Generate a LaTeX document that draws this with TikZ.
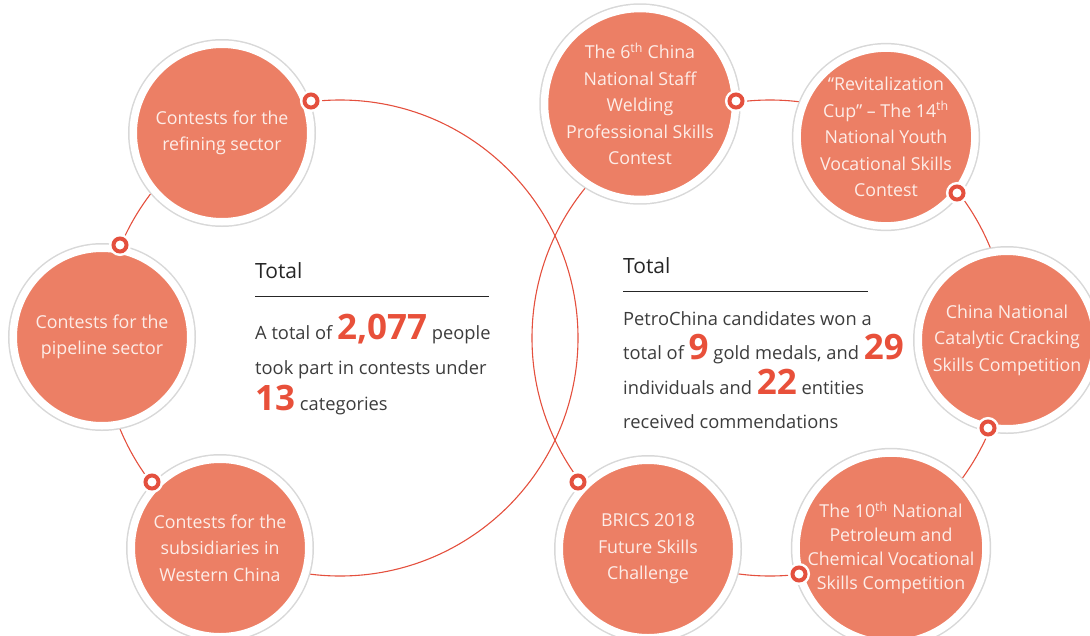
\documentclass[tikz,border=0pt]{standalone}
\usepackage{fontspec}
\setmainfont{Open Sans}
\definecolor{petal}{HTML}{EC7F65}
\definecolor{dotred}{HTML}{E4503E}
\definecolor{numred}{HTML}{E8503A}
\definecolor{ringgray}{HTML}{D8D8D8}
\definecolor{bodygray}{HTML}{3C3C3C}
\definecolor{bubbletext}{HTML}{FDEDE8}

\newcommand{\bignum}[1]{\textcolor{numred}{\fontsize{35}{35}\selectfont\bfseries #1}}

\tikzset{
  bubble/.style={circle, fill=petal, draw=white, line width=7.5pt,
    minimum size=177.5pt, inner sep=0pt, align=center, text=bubbletext,
    font=\fontsize{17.8}{26.5}\selectfont,
    preaction={draw=ringgray, line width=10.5pt}},
  marker/.style={circle, draw=dotred, fill=white, line width=4pt,
    minimum size=13pt, inner sep=0pt,
    preaction={draw=white, line width=9pt}},
  bigring/.style={draw=dotred, line width=1.1pt},
  body/.style={anchor=base west, inner sep=0pt, text=bodygray,
    font=\fontsize{18.3}{20}\selectfont},
  heading/.style={anchor=base west, inner sep=0pt, text=black!85,
    font=\fontsize{21}{21}\selectfont}
}

\begin{document}
\begin{tikzpicture}[x=1pt,y=-1pt]
\useasboundingbox (0,0) rectangle (1090,635);
\clip (0,0) rectangle (1090,635);

% the two large rings
\draw[bigring] (340,338) circle[radius=238pt];
\draw[bigring] (770,338) circle[radius=238pt];

% left side contests
\node[bubble] (refine) at (222,133) {Contests for the\\refining sector};
\node[bubble] (pipe) at (102,337) {Contests for the\\pipeline sector};
\node[bubble] (west) at (220,548) {Contests for the\\subsidiaries in\\Western China};

% right side contests
\node[bubble] (weld) at (640,104) {The 6\textsuperscript{th} China\\National Staff\\Welding\\Professional Skills\\Contest};
\node[bubble] (youth) at (886,137) {“Revitalization\\Cup” – The 14\textsuperscript{th}\\National Youth\\Vocational Skills\\Contest};
\node[bubble] (crack) at (1007,340) {China National\\Catalytic Cracking\\Skills Competition};
\node[bubble, font=\fontsize{17.8}{24}\selectfont] (petro) at (891,548) {The 10\textsuperscript{th} National\\Petroleum and\\Chemical Vocational\\Skills Competition};
\node[bubble] (brics) at (648,549) {BRICS 2018\\Future Skills\\Challenge};

% markers on the rings
\node[marker] (mlt) at (311,101) {};
\node[marker] (mll) at (120,245) {};
\node[marker] (mlb) at (152,482) {};
\node[marker] (mrt) at (736,101) {};
\node[marker] (mrr) at (957,193) {};
\node[marker] (mrd) at (988,428) {};
\node[marker] (mrb) at (799,574) {};
\node[marker] (mrl) at (578,482) {};

% left summary
\node[heading] (ltitle) at (255,278) {Total};
\draw[black!85, line width=1pt] (255,296) -- (489,296);
\node[body] (lline1) at (255,339) {A total of \bignum{2,077} people};
\node[body] (lline2) at (255,374) {took part in contests under};
\node[body] (lline3) at (255,410) {\bignum{13} categories};

% right summary
\node[heading] (rtitle) at (623,273) {Total};
\draw[black!85, line width=1pt] (623,291) -- (868,291);
\node[body] (rline1) at (623,325) {PetroChina candidates won a};
\node[body] (rline2) at (623,359) {total of \bignum{9} gold medals, and \bignum{29}};
\node[body] (rline3) at (623,394) {individuals and \bignum{22} entities};
\node[body] (rline4) at (623,428) {received commendations};
\end{tikzpicture}
\end{document}
